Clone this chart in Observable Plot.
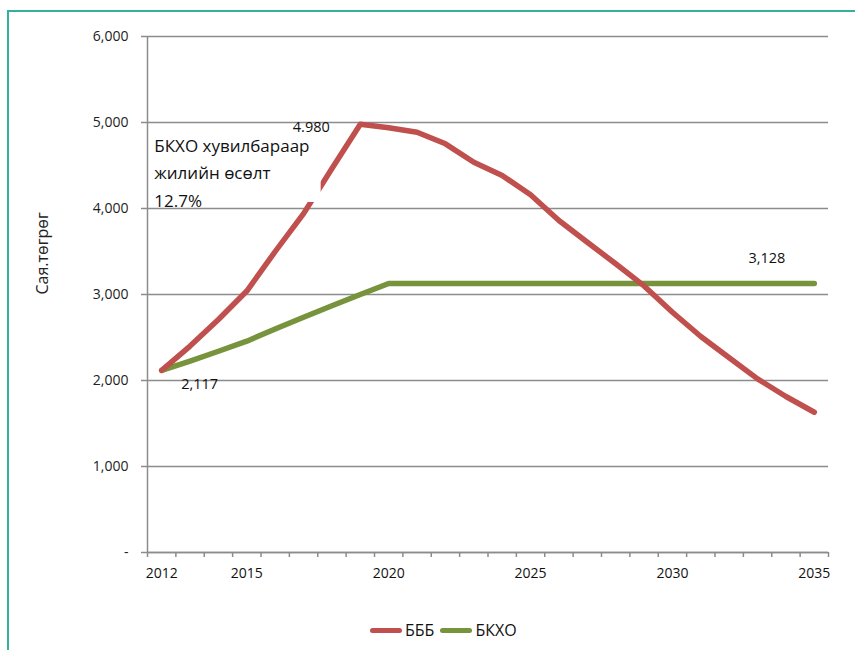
<!DOCTYPE html>
<html>
<head>
<meta charset="utf-8">
<script src="https://cdn.jsdelivr.net/npm/d3@7"></script>
<script src="https://cdn.jsdelivr.net/npm/@observablehq/plot@0.6"></script>
<style>
  body { margin: 0; background: #fff; }
  #wrap { position: relative; width: 855px; height: 650px; overflow: hidden; background: #fff; }
  #frame { position: absolute; left: 7px; top: 10px; width: 900px; height: 700px;
           border-top: 2px solid #35b09c; border-left: 2px solid #35b09c; pointer-events: none; }
  #chart svg { display: block; }
  #legend { height: 40px; display: flex; align-items: center; padding-left: 370px;
            font-family: "Open Sans", sans-serif; font-size: 16px; color: #111; }
  .item { display: flex; align-items: center; margin-right: 6px; }
  .sw { width: 32px; height: 5px; border-radius: 3px; margin-right: 3px; }
</style>
</head>
<body>
<div id="wrap">
  <div id="frame"></div>
  <div id="chart"></div>
  <div id="legend"></div>
</div>
<script>
// ---- data ----
const years = [2012, 2013, 2014, 2015, 2016, 2017, 2018, 2019, 2020, 2021, 2022, 2023,
               2024, 2025, 2026, 2027, 2028, 2029, 2030, 2031, 2032, 2033, 2034, 2035];
const bbbValues = [2117, 2400, 2710, 3040, 3500, 3940, 4465, 4980, 4940, 4887, 4752, 4538,
                   4384, 4159, 3860, 3608, 3357, 3100, 2794, 2512, 2264, 2019, 1814, 1631];
const bkhoValues = [2117, 2225, 2340, 2457, 2600, 2735, 2870, 3000, 3128, 3128, 3128, 3128,
                    3128, 3128, 3128, 3128, 3128, 3128, 3128, 3128, 3128, 3128, 3128, 3128];
const seriesNames = ["БББ", "БКХО"];
const seriesColors = ["#c0504d", "#77933c"];
const xTickLabels = [2012, 2015, 2020, 2025, 2030, 2035];
const yTicks = [0, 1000, 2000, 3000, 4000, 5000, 6000];
const yTitle = "Сая.төгрөг";
const noteLines = ["БКХО хувилбараар", "жилийн өсөлт", "12.7%"];
const dataLabels = [
  {year: 2012, value: 2117, text: "2,117"},
  {year: 2019, value: 4980, text: "4.980"},
  {year: 2034, value: 3128, text: "3,128"}
];
// pixel offsets of each data label from its point
const labelOffsets = [[38, 14], [-49, 3], [-19, -25]];
// annotation box (data space) that hides part of the line behind the note
const noteBox = {x1: 2011.62, x2: 2017.62, y1: 4070, y2: 4935};

// ---- build ----
const rows = [];
years.forEach((yr, i) => rows.push({year: yr, value: bbbValues[i], series: seriesNames[0]}));
years.forEach((yr, i) => rows.push({year: yr, value: bkhoValues[i], series: seriesNames[1]}));
const boundaries = years.map(y => y - 0.5).concat([years[years.length - 1] + 0.5]);
const grey = "#8c8c8c";

const labelMarks = dataLabels.map((d, i) => Plot.text([d], {
  x: "year", y: "value", text: "text", dx: labelOffsets[i][0], dy: labelOffsets[i][1],
  fontSize: 14.5, fill: "#111", fontFamily: "Open Sans"
}));

const chart = Plot.plot({
  width: 855,
  height: 610,
  marginLeft: 147,
  marginRight: 27,
  marginTop: 36,
  marginBottom: 58,
  x: {domain: [boundaries[0], boundaries[boundaries.length - 1]]},
  y: {domain: [0, 6000]},
  color: {domain: seriesNames, range: seriesColors},
  style: {background: "transparent", fontFamily: "Open Sans, sans-serif"},
  marks: [
    Plot.gridY(yTicks, {stroke: grey, strokeOpacity: 1, strokeWidth: 1.5}),
    Plot.ruleY([0], {stroke: grey, strokeWidth: 1.5}),
    Plot.ruleX([boundaries[0]], {stroke: grey, strokeWidth: 1.5}),
    Plot.axisY({ticks: yTicks, tickSize: 6, tickFormat: () => "", label: null,
                stroke: grey, strokeWidth: 1.5}),
    Plot.axisY({
      ticks: yTicks, tickSize: 0, tickPadding: 19, label: null,
      tickFormat: d => d === 0 ? "-" : d3.format(",")(d),
      fill: "#222", fontSize: 14, fontFamily: "Open Sans", fontWeight: "normal"
    }),
    Plot.axisX({ticks: boundaries, tickSize: 5, tickFormat: () => "", label: null,
                stroke: grey, strokeWidth: 1.5}),
    Plot.axisX({
      ticks: xTickLabels, tickSize: 0, tickPadding: 16, label: null,
      tickFormat: d => String(d), fill: "#111", fontSize: 14,
      fontFamily: "Open Sans", fontWeight: "normal"
    }),
    Plot.text([yTitle], {
      frameAnchor: "left", dx: -105, rotate: -90, fontSize: 16, fill: "#222",
      fontFamily: "Open Sans"
    }),
    Plot.line(rows.filter(d => d.series === seriesNames[1]), {
      x: "year", y: "value", stroke: "series", strokeWidth: 5.5,
      strokeLinecap: "round", strokeLinejoin: "round"
    }),
    Plot.line(rows.filter(d => d.series === seriesNames[0]), {
      x: "year", y: "value", stroke: "series", strokeWidth: 5.5,
      strokeLinecap: "round", strokeLinejoin: "round"
    }),
    Plot.rect([noteBox], {x1: "x1", x2: "x2", y1: "y1", y2: "y2", fill: "white"}),
    Plot.text([noteLines.join("\n")], {
      x: noteBox.x1 + 0.12, y: noteBox.y2 - 50, textAnchor: "start", lineAnchor: "top",
      lineHeight: 1.62, fontSize: 17, fill: "#111", fontFamily: "Open Sans"
    }),
    ...labelMarks
  ]
});
document.getElementById("chart").appendChild(chart);

// legend
const legend = document.getElementById("legend");
seriesNames.forEach((name, i) => {
  const it = document.createElement("div");
  it.className = "item";
  const sw = document.createElement("div");
  sw.className = "sw";
  sw.style.background = seriesColors[i];
  const t = document.createElement("span");
  t.textContent = name;
  it.appendChild(sw);
  it.appendChild(t);
  legend.appendChild(it);
});
</script>
</body>
</html>
